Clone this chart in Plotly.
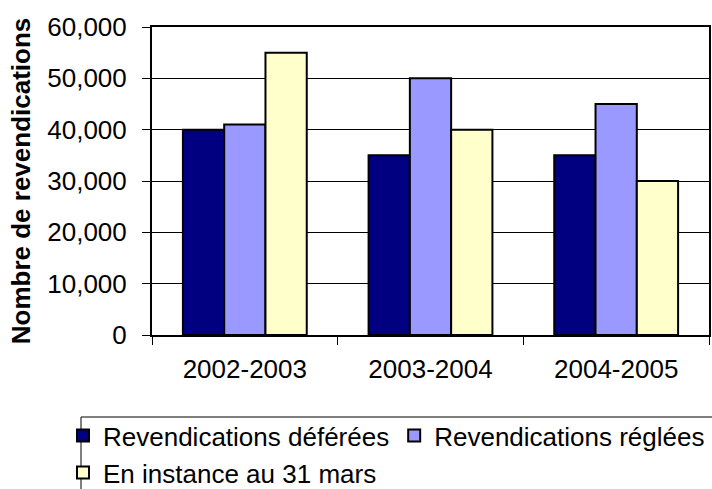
import plotly.graph_objects as go

# Fiscal years and claim counts per series
years = ["2002-2003", "2003-2004", "2004-2005"]
deferees = [40000, 35000, 35000]
reglees = [41000, 50000, 45000]
en_instance = [55000, 40000, 30000]

series = [
    ("Revendications déférées", deferees, "#000080", "legend"),
    ("Revendications réglées", reglees, "#9999FF", "legend"),
    ("En instance au 31 mars", en_instance, "#FFFFCC", "legend2"),
]

W, H = 712, 489
L, R, T, B = 152, 3, 27, 154
pw, ph = W - L - R, H - T - B


def px_x(px):
    return (px - L) / pw


def px_y(py):
    return (H - B - py) / ph


FONT = "Liberation Sans, Arial, sans-serif"
FS = 26

fig = go.Figure()
for name, vals, color, leg in series:
    fig.add_trace(go.Bar(
        x=years, y=vals, name=name,
        marker=dict(color=color, line=dict(color="black", width=2)),
        legend=leg,
    ))

fig.update_layout(
    width=W, height=H,
    margin=dict(l=L, r=R, t=T, b=B, pad=0, autoexpand=False),
    paper_bgcolor="white", plot_bgcolor="white",
    barmode="group", bargap=0.333, bargroupgap=0,
    font=dict(family=FONT, size=FS, color="black"),
    showlegend=True,
    legend=dict(
        orientation="h", x=px_x(63), y=px_y(412),
        xanchor="left", yanchor="top",
        font=dict(family=FONT, size=FS, color="black"),
        bgcolor="rgba(0,0,0,0)", itemwidth=30,
        traceorder="normal",
    ),
    legend2=dict(
        orientation="h", x=px_x(63), y=px_y(449),
        xanchor="left", yanchor="top",
        font=dict(family=FONT, size=FS, color="black"),
        bgcolor="rgba(0,0,0,0)", itemwidth=30,
    ),
    shapes=[
        # legend frame, running off the right and bottom edges
        dict(type="rect", xref="paper", yref="paper",
             x0=px_x(81), x1=px_x(740), y0=px_y(417), y1=px_y(520),
             line=dict(color="black", width=1), fillcolor="rgba(0,0,0,0)",
             layer="below"),
    ],
)

fig.update_xaxes(
    showline=True, linecolor="black", linewidth=2, mirror=True,
    ticks="outside", tickson="boundaries", ticklen=8, tickcolor="black",
    tickwidth=1, showgrid=False, ticklabelstandoff=10,
    tickfont=dict(family=FONT, size=FS, color="black"),
)
fig.update_yaxes(
    range=[0, 60000], dtick=10000, tickformat=",",
    showline=True, linecolor="black", linewidth=2, mirror=True,
    ticks="outside", ticklen=8, tickcolor="black", tickwidth=1,
    showgrid=True, gridcolor="black", gridwidth=1,
    zeroline=False, ticklabelstandoff=10,
    tickfont=dict(family=FONT, size=FS, color="black"),
    title=dict(text="<b>Nombre de revendications</b>",
               font=dict(family=FONT, size=FS, color="black"), standoff=9),
)

fig.write_html("out.html")
